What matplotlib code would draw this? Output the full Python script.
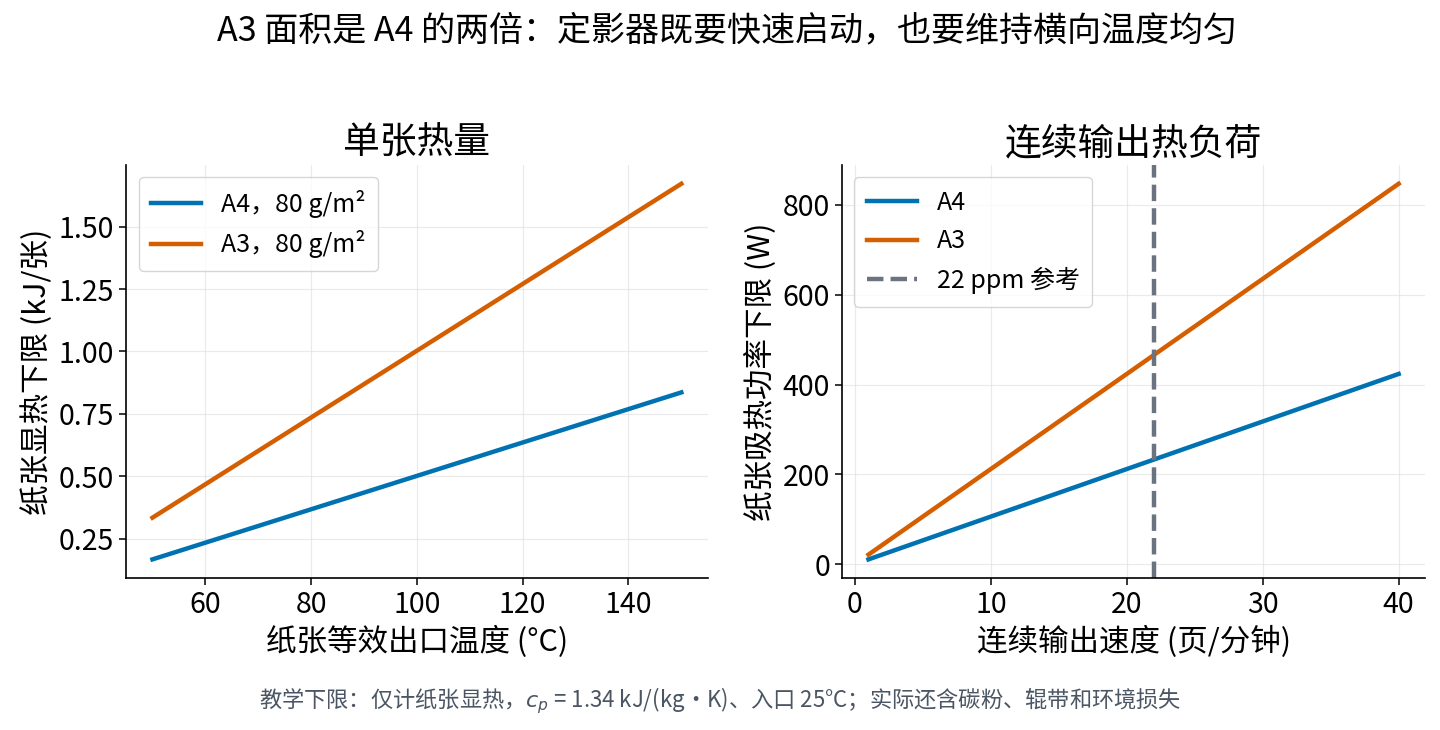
import matplotlib

matplotlib.use("Agg")
import matplotlib.pyplot as plt

plt.rcParams['font.family'] = ['Noto Sans CJK SC', 'DejaVu Sans']
plt.rcParams['axes.unicode_minus'] = False

# left panel: exit temperature vs heat per sheet (kJ)
temp_c = [50, 150]
heat_a4 = [0.167, 0.836]
heat_a3 = [0.334, 1.672]

# right panel: pages per minute vs absorbed power (W)
speed_ppm = [1, 40]
power_a4 = [10.6, 423.5]
power_a3 = [21.2, 847.0]
ref_ppm = 22

blue = '#0072B2'
orange = '#D55E00'
gray = '#6B7280'

fig = plt.figure(figsize=(14.4, 7.3), dpi=100)
ax1 = fig.add_axes([0.0875, 0.208, 0.404, 0.566])
ax2 = fig.add_axes([0.5847, 0.208, 0.405, 0.566])

ax1.plot(temp_c, heat_a4, color=blue, lw=3.2, label='A4，80 g/m²')
ax1.plot(temp_c, heat_a3, color=orange, lw=3.2, label='A3，80 g/m²')
ax1.set_title('单张热量', fontsize=26.5, pad=8)
ax1.set_xlabel('纸张等效出口温度 (°C)', fontsize=22)
ax1.set_ylabel('纸张显热下限 (kJ/张)', fontsize=22)
ax1.set_xticks([60, 80, 100, 120, 140])
ax1.set_yticks([0.25, 0.5, 0.75, 1.0, 1.25, 1.5])
ax1.yaxis.set_major_formatter(matplotlib.ticker.FormatStrFormatter('%.2f'))

ax2.plot(speed_ppm, power_a4, color=blue, lw=3.2, label='A4')
ax2.plot(speed_ppm, power_a3, color=orange, lw=3.2, label='A3')
ax2.axvline(ref_ppm, color=gray, lw=3.2, ls='--', label='22 ppm 参考')
ax2.set_title('连续输出热负荷', fontsize=26.5, pad=8)
ax2.set_xlabel('连续输出速度 (页/分钟)', fontsize=22)
ax2.set_ylabel('纸张吸热功率下限 (W)', fontsize=22)
ax2.set_xticks([0, 10, 20, 30, 40])
ax2.set_yticks([0, 200, 400, 600, 800])

for ax in (ax1, ax2):
    ax.spines['top'].set_visible(False)
    ax.spines['right'].set_visible(False)
    ax.spines['left'].set_linewidth(1.2)
    ax.spines['bottom'].set_linewidth(1.2)
    ax.grid(True, color='#dddddd', alpha=0.6, lw=0.8)
    ax.tick_params(labelsize=20.5, length=5, width=1.1)
    ax.legend(loc='upper left', fontsize=18, frameon=True, fancybox=True,
              handlelength=2.0, borderpad=0.5, labelspacing=0.5)

fig.suptitle('A3 面积是 A4 的两倍：定影器既要快速启动，也要维持横向温度均匀',
             fontsize=24.5, x=0.505, y=0.982)
fig.text(0.5, 0.04,
         '教学下限：仅计纸张显热，$c_p$ = 1.34 kJ/(kg·K)、入口 25°C；实际还含碳粉、辊带和环境损失',
         ha='center', va='center', fontsize=16, color='#4B5563')

fig.savefig('out.png', dpi=100)
